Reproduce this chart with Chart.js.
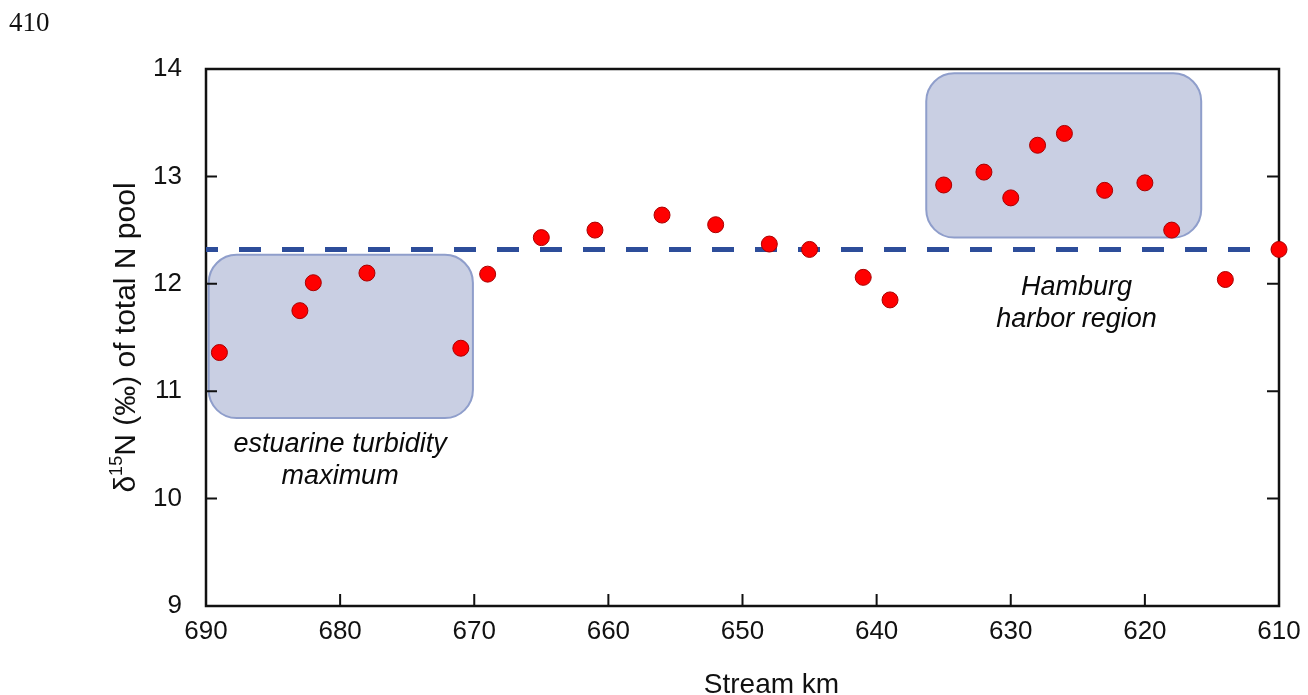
<!DOCTYPE html>
<html lang="en">

<head>
   <meta charset="UTF-8">
   <title>d15N of total N pool along the Elbe</title>
   <script src="https://cdn.jsdelivr.net/npm/chart.js@4.4.1/dist/chart.umd.min.js"></script>
   <style>
      html, body { margin: 0; padding: 0; background: #fff; }
      #wrap { width: 1308px; height: 695px; }
   </style>
</head>

<body>
   <div id="wrap"><canvas id="myChart" width="1308" height="695"></canvas></div>
   <script>
      // stream km of each sample and its d15N value
      const streamKm = [689, 683, 682, 678, 671, 669, 665, 661, 656, 652, 648, 645,
         641, 639, 635, 632, 630, 628, 626, 623, 620, 618, 614, 610];
      const d15N = [11.36, 11.75, 12.01, 12.10, 11.40, 12.09, 12.43, 12.50, 12.64, 12.55, 12.37, 12.32,
         12.06, 11.85, 12.92, 13.04, 12.80, 13.29, 13.40, 12.87, 12.94, 12.50, 12.04, 12.32];

      // reference line (dashed)
      const refKm = [690, 610];
      const refValue = 12.32;

      // axis ranges / tick labels
      const xTicks = [690, 680, 670, 660, 650, 640, 630, 620, 610];
      const yTicks = [9, 10, 11, 12, 13, 14];

      // shaded regions: [km from, km to, value top, value bottom]
      const regionTurbidity = [689.8, 670.1, 12.27, 10.75];
      const regionHarbor = [636.3, 615.8, 13.96, 12.43];

      // region labels, anchored at km / value
      const regionLabels = [
         { km: 680.0, val: 10.43, lines: ['estuarine turbidity', 'maximum'] },
         { km: 625.1, val: 11.90, lines: ['Hamburg', 'harbor region'] }
      ];

      const FONT = '"Liberation Sans", Arial, sans-serif';

      const framePlugin = {
         id: 'frame',
         beforeDatasetsDraw(chart) {
            const ctx = chart.ctx;
            const { left, right, top, bottom } = chart.chartArea;
            const xs = chart.scales.x, ys = chart.scales.y;

            // shaded boxes
            [regionTurbidity, regionHarbor].forEach(r => {
               const x1 = xs.getPixelForValue(r[0]), x2 = xs.getPixelForValue(r[1]);
               const y1 = ys.getPixelForValue(r[2]), y2 = ys.getPixelForValue(r[3]);
               ctx.save();
               ctx.beginPath();
               ctx.roundRect(x1, y1, x2 - x1, y2 - y1, 28);
               ctx.fillStyle = '#c9cfe3';
               ctx.fill();
               ctx.lineWidth = 2;
               ctx.strokeStyle = '#8f9ecb';
               ctx.stroke();
               ctx.restore();
            });

            // axis frame
            ctx.save();
            ctx.strokeStyle = '#111';
            ctx.lineWidth = 2.5;
            ctx.strokeRect(left, top, right - left, bottom - top);

            // inward tick marks
            ctx.beginPath();
            ctx.lineWidth = 2;
            xTicks.slice(1, -1).forEach(v => {
               const px = xs.getPixelForValue(v);
               ctx.moveTo(px, bottom);
               ctx.lineTo(px, bottom - 12);
            });
            yTicks.slice(1).forEach(v => {
               const py = ys.getPixelForValue(v);
               ctx.moveTo(left, py);
               ctx.lineTo(left + 11, py);
               if (v < 14) {
                  ctx.moveTo(right, py);
                  ctx.lineTo(right - 12, py);
               }
            });
            ctx.stroke();
            ctx.restore();
         },
         afterDraw(chart) {
            const ctx = chart.ctx;
            const { left, right, top, bottom } = chart.chartArea;
            const xs = chart.scales.x, ys = chart.scales.y;
            ctx.save();
            ctx.fillStyle = '#0a0a0a';
            ctx.textAlign = 'center';
            ctx.textBaseline = 'alphabetic';

            // region labels
            ctx.font = 'italic 27px ' + FONT;
            regionLabels.forEach(l => {
               const px = xs.getPixelForValue(l.km);
               const py = ys.getPixelForValue(l.val);
               l.lines.forEach((t, i) => ctx.fillText(t, px, py + i * 32));
            });

            // x axis title
            ctx.font = '28px ' + FONT;
            ctx.fillStyle = '#111';
            ctx.textBaseline = 'middle';
            ctx.fillText('Stream km', (left + right) / 2 + 29, 685);

            // y axis title with superscript
            ctx.translate(127, (top + bottom) / 2);
            ctx.rotate(-Math.PI / 2);
            const big = '30px ' + FONT, small = '18px ' + FONT;
            const parts = [['δ', big, 0], ['15', small, -10], ['N (‰) of total N pool', big, 0]];
            let total = 0;
            parts.forEach(p => { ctx.font = p[1]; total += ctx.measureText(p[0]).width; });
            let cx = -total / 2;
            ctx.textAlign = 'left';
            parts.forEach(p => {
               ctx.font = p[1];
               ctx.fillText(p[0], cx, p[2]);
               cx += ctx.measureText(p[0]).width;
            });
            ctx.restore();

            // page number
            ctx.save();
            ctx.font = '27px "Liberation Serif", "Times New Roman", serif';
            ctx.fillStyle = '#111';
            ctx.textBaseline = 'middle';
            ctx.fillText('410', 9, 24);
            ctx.restore();
         }
      };

      const config = {
         type: 'scatter',
         data: {
            datasets: [
               {
                  label: 'd15N',
                  data: streamKm.map((km, i) => ({ x: km, y: d15N[i] })),
                  backgroundColor: '#ff0000',
                  borderColor: '#a80000',
                  borderWidth: 1,
                  pointRadius: 8,
                  clip: false
               },
               {
                  type: 'line',
                  label: 'reference',
                  data: refKm.map(km => ({ x: km, y: refValue })),
                  borderColor: '#2d4d9a',
                  borderWidth: 5,
                  borderDash: [22, 21],
                  borderDashOffset: 10,
                  pointRadius: 0,
                  fill: false
               }
            ]
         },
         options: {
            responsive: false,
            animation: false,
            layout: { padding: { top: 69, right: 29, left: 0, bottom: 0 } },
            plugins: {
               legend: { display: false },
               tooltip: { enabled: false }
            },
            scales: {
               x: {
                  type: 'linear',
                  reverse: true,
                  min: 610,
                  max: 690,
                  grid: { display: false },
                  border: { display: false },
                  afterBuildTicks: scale => { scale.ticks = xTicks.map(v => ({ value: v })); },
                  afterFit: scale => { scale.height = 89; },
                  ticks: {
                     color: '#111',
                     font: { family: FONT, size: 26 },
                     padding: 2,
                     maxRotation: 0
                  }
               },
               y: {
                  min: 9,
                  max: 14,
                  grid: { display: false },
                  border: { display: false },
                  afterBuildTicks: scale => { scale.ticks = yTicks.map(v => ({ value: v })); },
                  afterFit: scale => { scale.width = 206; },
                  ticks: {
                     color: '#111',
                     font: { family: FONT, size: 26 },
                     padding: 16
                  }
               }
            }
         },
         plugins: [framePlugin]
      };

      new Chart(document.getElementById('myChart').getContext('2d'), config);
   </script>
</body>

</html>
